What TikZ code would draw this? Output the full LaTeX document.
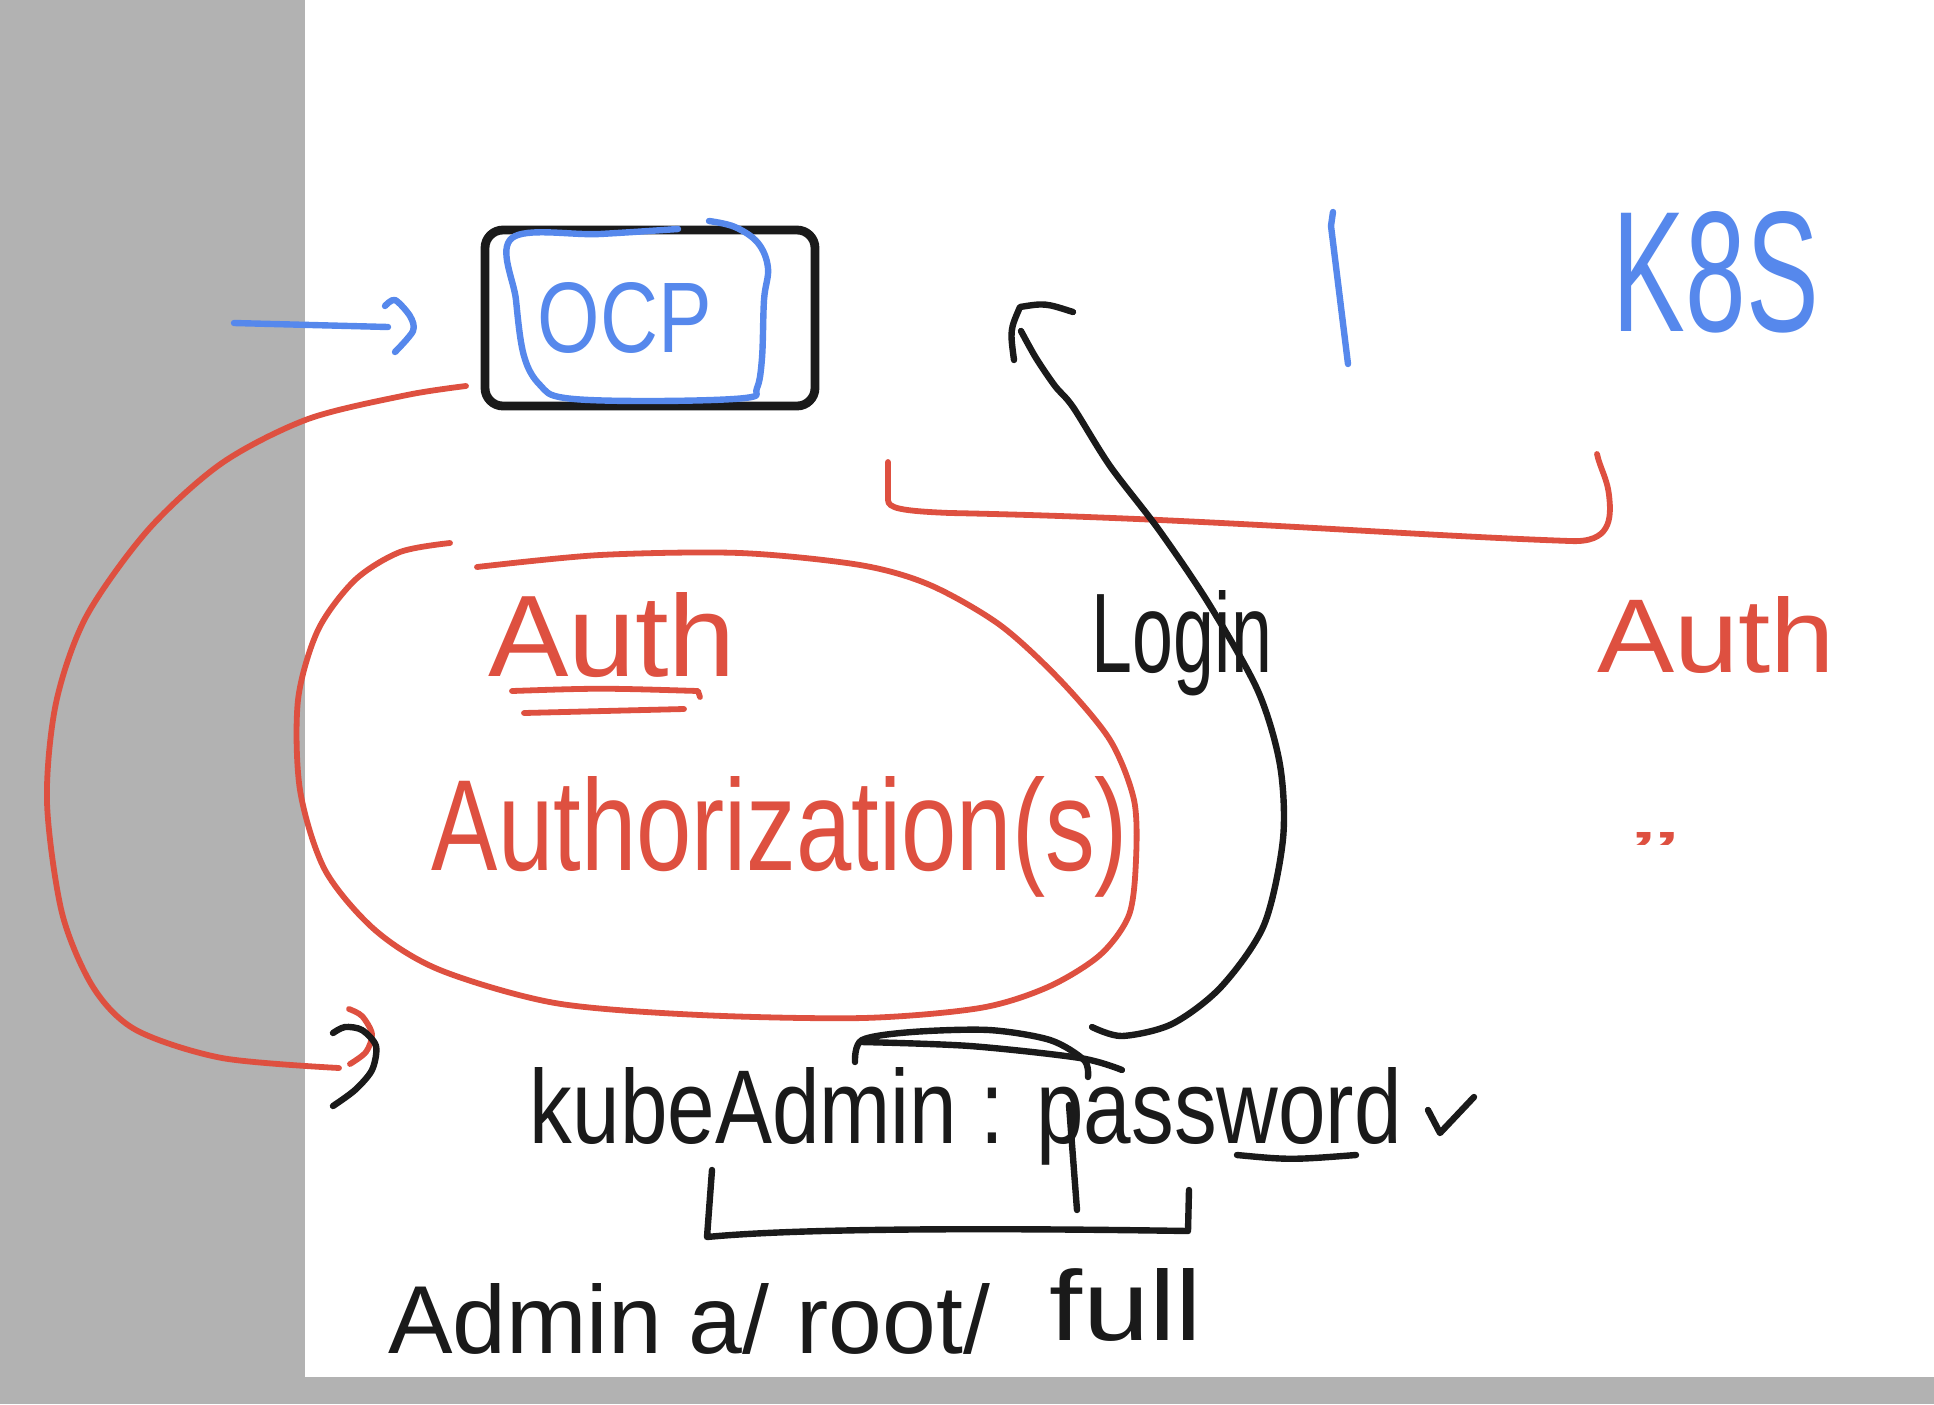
\documentclass[tikz,border=0pt]{standalone}
\usepackage{fontspec}
\setmainfont{Liberation Sans}
\definecolor{myred}{RGB}{222,80,64}
\definecolor{myblue}{RGB}{86,136,236}
\definecolor{myblack}{RGB}{26,26,26}
\definecolor{mygrey}{RGB}{178,178,178}
\newcommand\handtxt[3]{\resizebox{#1}{#2}{#3}}
\begin{document}
\begin{tikzpicture}[x=0.5pt,y=-0.5pt,
  redline/.style={draw=myred,line width=2.9pt,line cap=round,line join=round},
  blueline/.style={draw=myblue,line width=3.2pt,line cap=round,line join=round},
  blackline/.style={draw=myblack,line width=3.2pt,line cap=round,line join=round},
  lbl/.style={inner sep=0pt,anchor=base},
]
\fill[white] (0,0) rectangle (1934,1404);
\fill[mygrey] (0,0) rectangle (305,1404);
\fill[mygrey] (0,1377) rectangle (1934,1404);
\useasboundingbox (0,0) rectangle (1934,1404);

% OCP box
\node[draw=myblack,line width=4.4pt,rounded corners=9pt,minimum width=165pt,minimum height=88pt,inner sep=0pt] (ocpbox) at (650,318) {};
\draw[blueline] plot[smooth,tension=0.6] coordinates {(678,229) (600,234) (512,238) (516,300) (524,356) (540,385) (565,398) (650,401) (745,398) (757,388) (762,358) (764,300) (768,268) (758,243) (735,227) (709,221)};
\node[lbl,text=myblue] (ocp) at (625,352) {\handtxt{87pt}{35pt}{OCP}};

% blue input arrow
\coordinate (inS) at (234,323);
\coordinate (inE) at (388,327);
\draw[blueline] (inS) -- (inE);
\draw[blueline] plot[smooth] coordinates {(385,306) (395,300) (410,316) (413,331) (395,352)};

% blue separator and K8S
\coordinate (sepA) at (1333,212);
\coordinate (sepB) at (1348,364);
\draw[blueline] (sepA) -- (1331,226) -- (sepB);
\node[lbl,text=myblue] (k8s) at (1716,331) {\handtxt{103pt}{60pt}{K8S}};

% red bracket under the top
\coordinate (brA) at (888,462);
\coordinate (brB) at (1597,454);
\draw[redline] (brA) -- (888,500) .. controls (888,508) and (900,511) .. (950,513)
  .. controls (1200,518) and (1400,535) .. (1570,541)
  .. controls (1610,543) and (1612,520) .. (1609,495)
  .. controls (1607,478) and (1600,468) .. (brB);

% red curve from OCP to kubeAdmin
\coordinate (rA) at (466,386);
\coordinate (rB) at (339,1068);
\draw[redline] plot[smooth] coordinates {(rA) (407,395) (308,419) (222,463) (148,530) (86,617) (56,703) (47,802) (62,913) (93,987) (136,1030) (222,1058) (rB)};
\draw[redline] plot[smooth] coordinates {(349,1009) (362,1016) (372,1034) (366,1052) (350,1064)};
\draw[blackline] plot[smooth] coordinates {(333,1033) (345,1027) (362,1030) (376,1046) (372,1070) (355,1090) (333,1106)};

% red open loop
\coordinate (elS) at (450,543);
\coordinate (elE) at (477,567);
\draw[redline] plot[smooth] coordinates {(elS) (400,552) (355,580) (318,630) (298,700) (300,790) (325,870) (375,930) (440,970) (555,1003) (700,1015) (863,1018) (980,1008) (1048,987) (1100,955) (1129,915) (1136,860) (1134,800) (1110,740) (1060,680) (1000,625) (930,585) (860,565) (740,553) (600,555) (elE)};

% Auth + Authorization
\node[lbl,text=myred] (auth) at (612,676) {\handtxt{124pt}{42pt}{Auth}};
\draw[redline] (512,691) .. controls (600,688) .. (698,691) -- (700,697);
\draw[redline] (524,713) -- (684,709);
\node[lbl,text=myred] (authz) at (780,870) {\handtxt{348pt}{47pt}{Authorization(s)}};

% right side Auth and ditto
\node[lbl,text=myred] (auth2) at (1716,672) {\handtxt{119pt}{38pt}{Auth}};
\node[lbl,text=myred] (ditto) at (1655,872) {\handtxt{24pt}{20pt}{''}};

% Login
\node[lbl,text=myblack] (login) at (1182,672) {\handtxt{90pt}{41pt}{Login}};
\coordinate (lgS) at (1092,1027);
\coordinate (lgE) at (1021,331);
\coordinate (tip) at (1020,307);
\draw[blackline] plot[smooth] coordinates {(lgS) (1122,1036) (1172,1024) (1221,987) (1264,925) (1283,839) (1280,765) (1258,691) (1209,604) (1159,530) (1110,466) (1073,407) (1055,386) (1036,358) (lgE)};
\draw[blackline] (1014,360) .. controls (1010,330) .. (tip) .. controls (1045,303) .. (1073,312);

% kubeAdmin : password
\node[lbl,text=myblack] (kube) at (966,1143) {\handtxt{436pt}{38pt}{kubeAdmin : password}};
\draw[blackline] (1237,1155) .. controls (1290,1160) .. (1356,1155);
\draw[blackline] (1428,1110) -- (1440,1133) -- (1474,1097);
\draw[blackline] plot[smooth] coordinates {(855,1062) (862,1040) (912,1032) (989,1030) (1050,1040) (1084,1060) (1088,1077)};
\draw[blackline] plot[smooth] coordinates {(862,1042) (970,1046) (1080,1058) (1122,1070)};
\draw[blackline] (1069,1105) -- (1077,1210);
\coordinate (bkA) at (712,1170);
\coordinate (bkB) at (1189,1190);
\draw[blackline] (bkA) -- (707,1237) .. controls (800,1228) and (1000,1228) .. (1188,1231) -- (bkB);

% bottom line
\node[lbl,text=myblack] (admin) at (689,1353) {\handtxt{301pt}{35pt}{Admin a/ root/}};
\node[lbl,text=myblack] (full) at (1126,1340) {\handtxt{76pt}{36pt}{full}};
\end{tikzpicture}
\end{document}
